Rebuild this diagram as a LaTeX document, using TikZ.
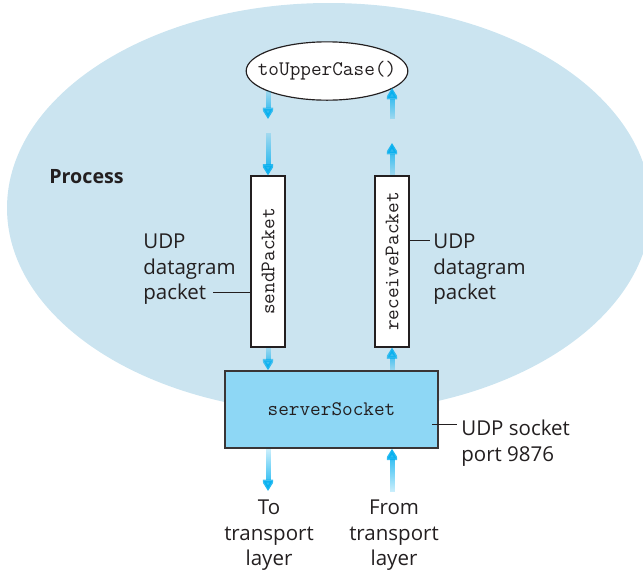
\documentclass[tikz,border=0pt]{standalone}
\usepackage{fontspec}
\setmainfont{Open Sans}
\usetikzlibrary{shapes.geometric,arrows.meta,fadings}

\definecolor{processblue}{RGB}{203,228,240}
\definecolor{socketblue}{RGB}{142,215,245}
\definecolor{flowcyan}{RGB}{0,174,239}
\definecolor{textgray}{RGB}{35,31,32}

% arrows start pale at the tail
\tikzfading[name=tailfade, top color=transparent!85, bottom color=transparent!0]

\begin{document}
\begin{tikzpicture}[x=0.6pt,y=-0.6pt,
		note/.style={font=\fontsize{12.3}{15.3}\selectfont, text=textgray, align=left, inner sep=0pt},
		code/.style={font=\ttfamily\fontsize{12.4}{14}\selectfont, text=textgray},
		funcnode/.style={code, ellipse, draw=textgray, line width=0.7pt, fill=white,
			minimum width=97pt, minimum height=35pt, inner xsep=-7.6pt, inner ysep=0pt},
		pktbox/.style={code, rectangle, draw=textgray, line width=0.7pt, fill=white, rotate=90,
			minimum width=102.6pt, minimum height=20.4pt, inner sep=0pt},
		sockbox/.style={code, rectangle, draw=textgray!90, line width=0.9pt, fill=socketblue,
			minimum width=127.8pt, minimum height=46.2pt},
		flow/.style={draw=flowcyan, line width=3pt, -{Triangle[width=8pt,length=6.8pt]},
			path fading=tailfade},
		flowup/.style={flow, fading angle=180},
		leader/.style={draw=textgray, line width=0.6pt}]

		\useasboundingbox (0,0) rectangle (643,569);

		% process
		\fill[processblue] (329,208) ellipse [x radius=322, y radius=205];
		\node[note, font=\fontsize{11.8}{15.3}\selectfont\bfseries, anchor=base west] (process) at (49,183) {Process};

		% nodes
		\node[funcnode] (upper) at (327,71) {toUpperCase()};
		\node[pktbox] (send) at (268,261.5) {sendPacket};
		\node[pktbox] (receive) at (392,261.5) {receivePacket};
		\node[sockbox] (socket) at (331.5,409.5) {serverSocket};

		% arrow ends
		\coordinate (upper-l) at (268,91);
		\coordinate (gap-l1) at (268,119);
		\coordinate (gap-l2) at (268,133);
		\coordinate (gap-r1) at (392,143);
		\coordinate (gap-r2) at (392,119);
		\coordinate (upper-r) at (392,88);
		\coordinate (to-tl) at (268,491);
		\coordinate (from-tl) at (392,492);

		% data flow
		\draw[flow] (upper-l) -- (gap-l1);
		\draw[flow] (gap-l2) -- (send.east);
		\draw[flow] (send.west) -- (send.west |- socket.north);
		\draw[flow] (send.west |- socket.south) -- (to-tl);

		\draw[flowup] (from-tl) -- (receive.west |- socket.south);
		\draw[flowup] (receive.west |- socket.north) -- (receive.west);
		\draw[flowup] (receive.east) -- (gap-r1);
		\draw[flowup] (gap-r2) -- (upper-r);

		% labels
		\node[note, anchor=north west] (dgram-l) at (143,234) {UDP\\datagram\\packet};
		\node[note, anchor=north west] (dgram-r) at (433,234) {UDP\\datagram\\packet};
		\node[note, anchor=north west] (port) at (461,420) {UDP socket\\port 9876};
		\node[note, align=center, anchor=north] (to-label) at (269,500) {To\\transport\\layer};
		\node[note, align=center, anchor=north] (from-label) at (394,500) {From\\transport\\layer};

		% leaders
		\coordinate (dgl-end) at (213,292);
		\coordinate (dgr-end) at (430,240);
		\coordinate (sock-in) at (432,424);
		\coordinate (sock-end) at (457,424);
		\draw[leader] (dgl-end) -- (dgl-end -| send.north);
		\draw[leader] (receive.south |- dgr-end) -- (dgr-end);
		\draw[leader] (sock-in) -- (sock-end);

	\end{tikzpicture}
\end{document}
